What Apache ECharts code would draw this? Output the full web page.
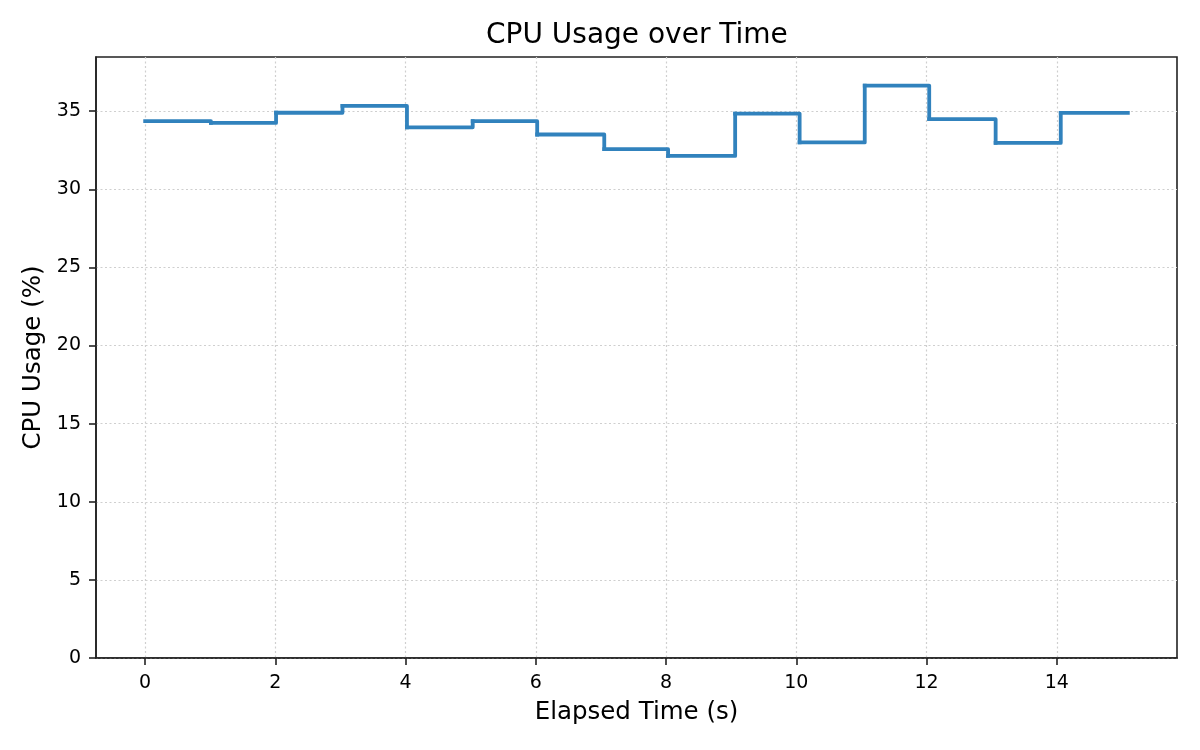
<!DOCTYPE html>
<html>
<head>
<meta charset="utf-8">
<title>CPU Usage over Time</title>
<script src="https://cdn.jsdelivr.net/npm/echarts@6/dist/echarts.min.js"></script>
<style>
  html, body { margin: 0; padding: 0; background: #fff; }
  #chart { width: 1200px; height: 750px; }
</style>
</head>
<body>
<div id="chart"></div>
<script>
// elapsed time of each sample (s) and cpu usage at that sample (%)
const elapsed = [0, 1.01, 2.01, 3.03, 4.02, 5.03, 6.02, 7.05, 8.03, 9.06, 10.05, 11.05, 12.04, 13.06, 14.06, 15.09];
const cpuUsage = [34.36, 34.25, 34.90, 35.34, 33.97, 34.36, 33.51, 32.57, 32.14, 34.85, 33.0, 36.64, 34.49, 32.97, 34.89, 34.89];
const xTicks = [0, 2, 4, 6, 8, 10, 12, 14];
const yTicks = [0, 5, 10, 15, 20, 25, 30, 35];

let fontFamily = 'DejaVu Sans';
let lineColor = '#3182bd';
let chart = echarts.init(document.getElementById('chart'));

// one step per sample: [t, value, next t, next value] (steps-post)
let stepData = [];
for (let i = 0; i < elapsed.length - 1; i++) {
  stepData.push([elapsed[i], cpuUsage[i], elapsed[i + 1], cpuUsage[i + 1]]);
}

// drawn as a custom series: the built-in step line drops the tiny jog at ~1 s
function renderStep(params, api) {
  let p0 = api.coord([api.value(0), api.value(1)]);
  let p1 = api.coord([api.value(2), api.value(1)]);
  let p2 = api.coord([api.value(2), api.value(3)]);
  return {
    type: 'polyline',
    shape: { points: [p0, p1, p2] },
    style: {
      stroke: lineColor,
      fill: 'none',
      lineWidth: 3.8,
      lineCap: 'square',
      lineJoin: 'round'
    }
  };
}

let option = {
  backgroundColor: '#ffffff',
  animation: false,
  title: {
    text: 'CPU Usage over Time',
    left: 481,
    top: 17,
    textStyle: {
      fontFamily: fontFamily,
      fontSize: 28,
      fontWeight: 'normal',
      color: '#000'
    }
  },
  grid: {
    left: 96,
    right: 23,
    top: 57,
    bottom: 92,
    show: true,
    borderColor: '#222',
    borderWidth: 1.6,
    backgroundColor: 'transparent'
  },
  xAxis: {
    type: 'value',
    min: -0.755,
    max: 15.845,
    name: 'Elapsed Time (s)',
    nameLocation: 'middle',
    nameGap: 42,
    nameTextStyle: { fontFamily: fontFamily, fontSize: 24.5, color: '#000' },
    axisLine: { show: true, onZero: false, lineStyle: { color: '#222', width: 1.6 } },
    axisTick: { show: true, length: 7, customValues: xTicks, lineStyle: { color: '#222', width: 1.6 } },
    axisLabel: { customValues: xTicks, fontFamily: fontFamily, fontSize: 19, color: '#000', margin: 16 },
    splitLine: { show: true, lineStyle: { color: '#cfcfcf', type: [2, 2.5], width: 1.2 } }
  },
  yAxis: {
    type: 'value',
    min: 0,
    max: 38.47,
    name: 'CPU Usage (%)',
    nameLocation: 'middle',
    nameGap: 48,
    nameTextStyle: { fontFamily: fontFamily, fontSize: 24.5, color: '#000' },
    axisLine: { show: true, onZero: false, lineStyle: { color: '#222', width: 1.6 } },
    axisTick: { show: true, length: 7, customValues: yTicks, lineStyle: { color: '#222', width: 1.6 } },
    axisLabel: { customValues: yTicks, fontFamily: fontFamily, fontSize: 19, color: '#000', margin: 15 },
    splitLine: { show: true, lineStyle: { color: '#cfcfcf', type: [2, 2.5], width: 1.2 } }
  },
  series: [
    {
      name: 'CPU Usage',
      type: 'custom',
      renderItem: renderStep,
      data: stepData,
      encode: { x: [0, 2], y: [1, 3] },
      z: 3
    }
  ]
};

chart.setOption(option);
window.onresize = function () {
  chart.resize();
}
</script>
</body>
</html>
